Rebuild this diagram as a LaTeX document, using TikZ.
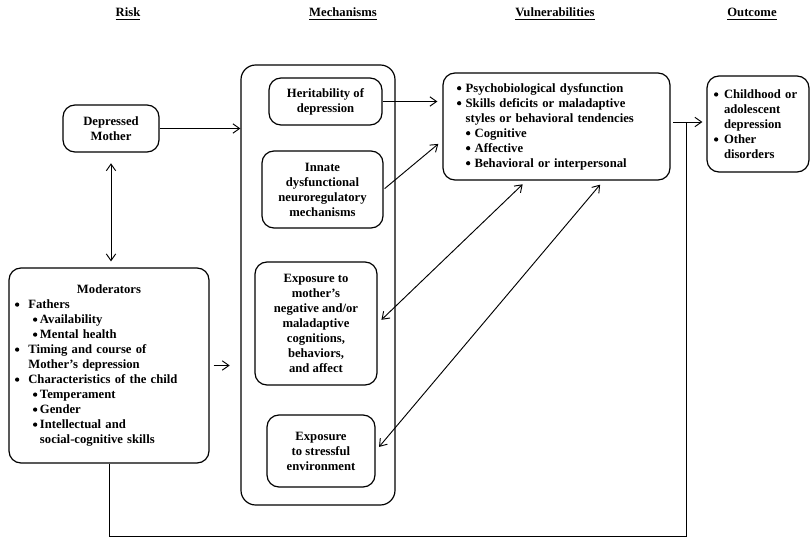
\documentclass[tikz,border=0pt]{standalone}
\usepackage{fontspec}
\setmainfont{Liberation Serif}
\usepackage{tikz}
\usetikzlibrary{positioning, arrows.meta, calc}

\newcommand{\bl}[1]{\makebox[#1][l]{\raisebox{0.3ex}{\tikz\fill (0,0) circle (1.6pt);}}}

\begin{document}
\begin{tikzpicture}[x=0.75pt, y=-0.75pt,
  box/.style={draw, line width=0.9pt, rounded corners=9pt, font=\bfseries\fontsize{9.5}{11.25}\selectfont},
  title/.style={font=\bfseries\fontsize{9.5}{11.25}\selectfont},
  conn/.style={line width=0.7pt, -{Straight Barb[length=5pt,width=7pt]}},
  dconn/.style={line width=0.7pt, {Straight Barb[length=5pt,width=7pt]}-{Straight Barb[length=5pt,width=7pt]}}]
\useasboundingbox (0,0) rectangle (811,538);
% column titles
\node[title] (tRisk) at (128,14) {\underline{Risk}};
\node[title] (tMech) at (343,14) {\underline{Mechanisms}};
\node[title] (tVul) at (555,14) {\underline{Vulnerabilities}};
\node[title] (tOut) at (752,14) {\underline{Outcome}};
% risk
\node[box, minimum width=72pt, minimum height=35.25pt, align=center] (DM) at (111,128.5) {Depressed\\Mother};
\node[box, minimum width=150pt, minimum height=146.25pt, inner xsep=4.5pt, text width=141pt, align=left] (Mod) at (109,365.5) {%
  \makebox[\linewidth]{Moderators}\\
  \bl{10pt}Fathers\\
  \hspace*{13.5pt}\bl{5.25pt}Availability\\
  \hspace*{13.5pt}\bl{5.25pt}Mental health\\
  \bl{10pt}Timing and course of\\
  \hspace*{10pt}Mother's depression\\
  \bl{10pt}Characteristics of the child\\
  \hspace*{13.5pt}\bl{5.25pt}Temperament\\
  \hspace*{13.5pt}\bl{5.25pt}Gender\\
  \hspace*{13.5pt}\bl{5.25pt}Intellectual and\\
  \hspace*{18.75pt}social-cognitive skills};
% mechanisms
\node[box, minimum width=115.5pt, minimum height=330pt, rounded corners=11pt] (big) at (318,285) {};
\node[box, minimum width=84.75pt, minimum height=35.25pt, align=center] (Her) at (325.5,101.5) {Heritability of\\depression};
\node[box, minimum width=90.75pt, minimum height=57.75pt, align=center] (Inn) at (322.5,189.5) {Innate\\dysfunctional\\neuroregulatory\\mechanisms};
\node[box, minimum width=91.5pt, minimum height=92.25pt, align=center] (Exm) at (316,323.5) {Exposure to\\mother's\\negative and/or\\maladaptive\\cognitions,\\behaviors,\\and affect};
\node[box, minimum width=81pt, minimum height=54pt, align=center] (Exs) at (321,451) {Exposure\\to stressful\\environment};
% vulnerabilities and outcome
\node[box, minimum height=80.25pt, inner xsep=10.5pt, text width=149.25pt, align=left] (Vul) at (556.5,126.5) {%
  \bl{6.5pt}Psychobiological dysfunction\\
  \bl{6.5pt}Skills deficits or maladaptive\\
  \hspace*{6.5pt}styles or behavioral tendencies\\
  \hspace*{6.75pt}\bl{6.5pt}Cognitive\\
  \hspace*{6.75pt}\bl{6.5pt}Affective\\
  \hspace*{6.75pt}\bl{6.5pt}Behavioral or interpersonal};
\node[box, minimum height=72pt, inner xsep=5.25pt, text width=66pt, align=left] (Out) at (758,124) {%
  \bl{7.5pt}Childhood or\\
  \hspace*{7.5pt}adolescent\\
  \hspace*{7.5pt}depression\\
  \bl{7.5pt}Other\\
  \hspace*{7.5pt}disorders};
% connectors
\coordinate (join) at (686,122);
\coordinate (low) at (0,536);
\draw[conn] (DM.east) -- (DM.east -| big.west);
\draw[dconn, shorten <=8pt, shorten >=4.5pt] (DM.south) -- (DM.south |- Mod.north);
\draw[conn, shorten <=3pt, shorten >=8pt] (Mod.east) -- (Mod.east -| big.west);
\draw[conn, shorten >=3.75pt] (Her.east) -- (Her.east -| Vul.west);
\draw[conn, shorten <=1pt, shorten >=4pt] (Inn.east) -- (Vul.187);
\draw[dconn, shorten <=4pt, shorten >=4pt] (Exm.east) -- (Vul.241);
\draw[dconn, shorten <=4pt, shorten >=4pt] (Exs.east) -- (Vul.311);
\draw[conn, shorten <=2pt, shorten >=3pt] (Vul.east |- join) -- (Out.west |- join);
\draw[line width=0.7pt] (Mod.south) -- (Mod.south |- low) -| (join);
\end{tikzpicture}
\end{document}
